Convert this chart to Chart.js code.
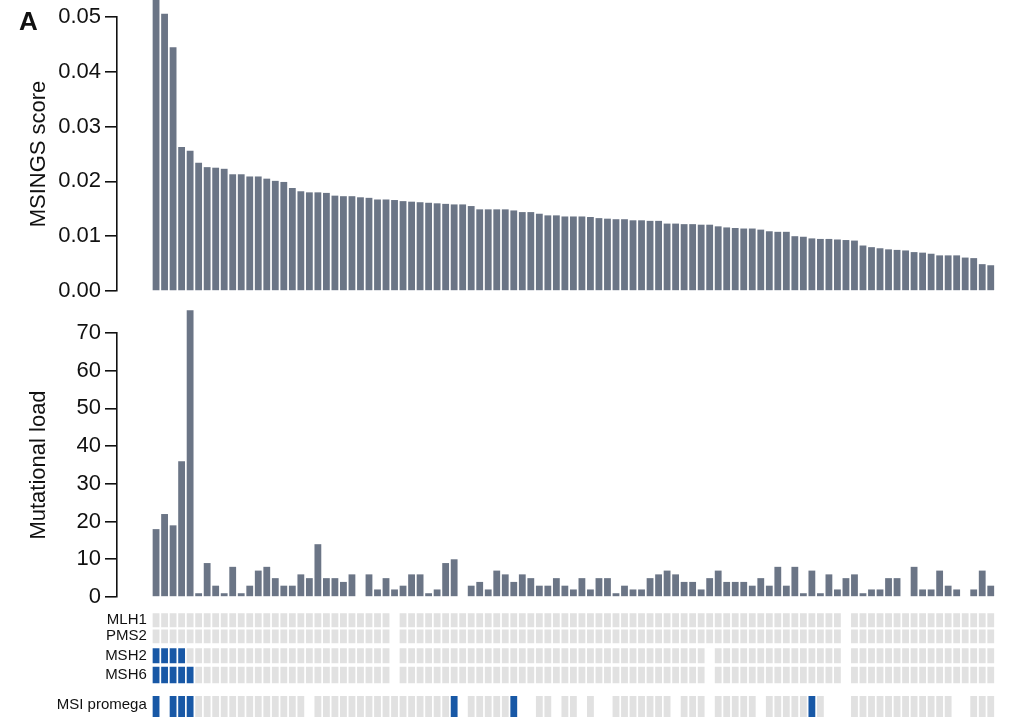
<!DOCTYPE html>
<html>
<head>
<meta charset="utf-8">
<script src="https://cdn.jsdelivr.net/npm/chart.js@4.4.1/dist/chart.umd.min.js"></script>
<style>
  body { margin: 0; background: #fff; }
  #wrap { position: relative; width: 1009px; height: 717px; overflow: hidden; }
  canvas { position: absolute; left: 0; }
  #panelLabel { position: absolute; left: 19px; top: 6px; font: bold 26px "Liberation Sans", Arial, sans-serif; color: #111; }
</style>
</head>
<body>
<div id="wrap">
  <canvas id="scoreChart" width="1009" height="300" style="top:0"></canvas>
  <canvas id="loadChart" width="1009" height="305" style="top:300px"></canvas>
  <canvas id="geneChart" width="1009" height="112" style="top:605px"></canvas>
  <div id="panelLabel">A</div>
</div>
<script>
// MSINGS score per sample (sorted high to low)
const msingsScore = [
  0.057, 0.0506, 0.0445, 0.0263, 0.0256, 0.0234, 0.0226, 0.0225, 0.0223, 0.0213,
  0.0213, 0.0209, 0.0209, 0.0205, 0.0201, 0.0199, 0.0188, 0.0182, 0.0180, 0.0180,
  0.0179, 0.0174, 0.0173, 0.0173, 0.0171, 0.0170, 0.0167, 0.0167, 0.0166, 0.0164,
  0.0163, 0.0162, 0.0161, 0.0160, 0.0159, 0.0158, 0.0158, 0.0155, 0.0149, 0.0149,
  0.0149, 0.0149, 0.0147, 0.0144, 0.0144, 0.0141, 0.0138, 0.0138, 0.0136, 0.0136,
  0.0136, 0.0135, 0.0133, 0.0132, 0.0131, 0.0131, 0.0129, 0.0129, 0.0128, 0.0128,
  0.0123, 0.0123, 0.0122, 0.0122, 0.0121, 0.0121, 0.0118, 0.0116, 0.0115, 0.0114,
  0.0114, 0.0112, 0.0109, 0.0108, 0.0108, 0.0100, 0.0099, 0.0096, 0.0095, 0.0095,
  0.0094, 0.0093, 0.0092, 0.0083, 0.0080, 0.0078, 0.0076, 0.0075, 0.0074, 0.0071,
  0.0070, 0.0068, 0.0065, 0.0065, 0.0065, 0.0061, 0.0060, 0.0049, 0.0047
];

// mutational load, same sample order (null = not sequenced)
const mutationalLoad = [
  18, 22, 19, 36, 76, 1, 9, 3, 1, 8,
  1, 3, 7, 8, 5, 3, 3, 6, 5, 14,
  5, 5, 4, 6, null, 6, 2, 5, 2, 3,
  6, 6, 1, 2, 9, 10, null, 3, 4, 2,
  7, 6, 4, 6, 5, 3, 3, 5, 3, 2,
  5, 2, 5, 5, 1, 3, 2, 2, 5, 6,
  7, 6, 4, 4, 2, 5, 7, 4, 4, 4,
  3, 5, 3, 8, 3, 8, 1, 7, 1, 6,
  2, 5, 6, 1, 2, 2, 5, 5, null, 8,
  2, 2, 7, 3, 2, null, 2, 7, 3
];

// tile status: 0 = no data, 1 = normal, 2 = deficient / MSI-high
const mlh1 = [
  1,1,1,1,1,1,1,1,1,1, 1,1,1,1,1,1,1,1,1,1, 1,1,1,1,1,1,1,1,0,1,
  1,1,1,1,1,1,1,1,1,1, 1,1,1,1,1,1,1,1,1,1, 1,1,1,1,1,1,1,1,1,1,
  1,1,1,1,1,1,1,1,1,1, 1,1,1,1,1,1,1,1,1,1, 1,0,1,1,1,1,1,1,1,1,
  1,1,1,1,1,1,1,1,1
];
const pms2 = [
  1,1,1,1,1,1,1,1,1,1, 1,1,1,1,1,1,1,1,1,1, 1,1,1,1,1,1,1,1,0,1,
  1,1,1,1,1,1,1,1,1,1, 1,1,1,1,1,1,1,1,1,1, 1,1,1,1,1,1,1,1,1,1,
  1,1,1,1,1,1,1,1,1,1, 1,1,1,1,1,1,1,1,1,1, 1,0,1,1,1,1,1,1,1,1,
  1,1,1,1,1,1,1,1,1
];
const msh2 = [
  2,2,2,2,1,1,1,1,1,1, 1,1,1,1,1,1,1,1,1,1, 1,1,1,1,1,1,1,1,0,1,
  1,1,1,1,1,1,1,1,1,1, 1,1,1,1,1,1,1,1,1,1, 1,1,1,1,1,1,1,1,1,1,
  1,1,1,1,1,0,1,1,1,1, 1,1,1,1,1,1,1,1,1,1, 1,0,1,1,1,1,1,1,1,1,
  1,1,1,1,1,1,1,1,1
];
const msh6 = [
  2,2,2,2,2,1,1,1,1,1, 1,1,1,1,1,1,1,1,1,1, 1,1,1,1,1,1,1,1,0,1,
  1,1,1,1,1,1,1,1,1,1, 1,1,1,1,1,1,1,1,1,1, 1,1,1,1,1,1,1,1,1,1,
  1,1,1,1,1,0,1,1,1,1, 1,1,1,1,1,1,1,1,1,1, 1,0,1,1,1,1,1,1,1,1,
  1,1,1,1,1,1,1,1,1
];
const msiPromega = [
  2,0,2,2,2,1,1,1,1,1, 1,1,1,1,1,1,1,1,0,1, 1,1,1,1,1,1,1,1,1,1,
  1,1,1,1,1,2,0,1,1,1, 1,1,2,0,0,1,1,0,1,1, 0,1,0,0,1,1,1,1,1,1,
  1,0,1,1,1,0,1,1,1,1, 1,0,1,1,1,1,1,2,1,0, 0,0,1,1,1,1,1,1,1,1,
  1,1,1,1,0,0,1,1,1
];
const rowNames = ['MLH1', 'PMS2', 'MSH2', 'MSH6', 'MSI promega'];
const rowData = [mlh1, pms2, msh2, msh6, msiPromega];

const scoreTicks = [0, 0.01, 0.02, 0.03, 0.04, 0.05];
const loadTicks = [0, 10, 20, 30, 40, 50, 60, 70];

const BAR = '#6b7586';
const TILE = '#e1e1e1';
const BLUE = '#1858a6';
const FONT = '"Liberation Sans", Arial, Helvetica, sans-serif';

// row bands of the tile strip (y units, reversed axis)
const rowTop = [0.07, 0.96, 2.0, 3.02, 4.64];
const rowBottom = [0.84, 1.73, 2.83, 3.93, 6.5];

const samples = msingsScore.map((v, i) => i + 1);

// shared x range so the three panels line up
const xPanel = { type: 'linear', display: false, offset: false, grid: { offset: false }, min: -3.585, max: 99.5 };

function axisFor(ticks, fmt, title) {
  return {
    min: ticks[0],
    max: ticks[ticks.length - 1],
    afterFit: s => { s.width = 117; s.paddingTop = 0; s.paddingBottom = 0; },
    afterBuildTicks: s => { s.ticks = ticks.map(v => ({ value: v })); },
    border: { display: true, color: '#111', width: 1.6 },
    grid: { drawOnChartArea: false, drawTicks: true, tickLength: 12, color: '#111', lineWidth: 1.6 },
    ticks: { color: '#111', padding: 4, font: { family: FONT, size: 22 }, callback: fmt },
    title: { display: true, text: title, color: '#111', font: { family: FONT, size: 22 }, padding: { top: 26, bottom: 0 } }
  };
}

function barOptions(padTop, padBottom, yAxis) {
  return {
    responsive: false,
    animation: false,
    layout: { padding: { top: padTop, bottom: padBottom, left: 0, right: 14 } },
    plugins: { legend: { display: false }, tooltip: { enabled: false } },
    scales: { x: xPanel, y: yAxis }
  };
}

new Chart(document.getElementById('scoreChart'), {
  type: 'bar',
  data: {
    datasets: [{
      data: msingsScore.map((v, i) => ({ x: samples[i], y: v })),
      backgroundColor: BAR,
      barPercentage: 0.8,
      categoryPercentage: 1,
      clip: false
    }]
  },
  options: barOptions(17, 9, axisFor(scoreTicks, v => v.toFixed(2), 'MSINGS score'))
});

new Chart(document.getElementById('loadChart'), {
  type: 'bar',
  data: {
    datasets: [{
      data: mutationalLoad.map((v, i) => ({ x: samples[i], y: v })),
      backgroundColor: BAR,
      barPercentage: 0.8,
      categoryPercentage: 1,
      clip: false
    }]
  },
  options: barOptions(33, 8, axisFor(loadTicks, v => v, 'Mutational load'))
});

// tile strip: one floating-bar dataset per row
new Chart(document.getElementById('geneChart'), {
  type: 'bar',
  data: {
    datasets: rowData.map((row, r) => ({
      data: row.map((s, i) => ({ x: samples[i], y: [rowTop[r], rowBottom[r]], s }))
               .filter(d => d.s > 0),
      backgroundColor: ctx => (ctx.raw && ctx.raw.s === 2 ? BLUE : TILE),
      barPercentage: 0.8,
      categoryPercentage: 1,
      grouped: false
    }))
  },
  options: {
    responsive: false,
    animation: false,
    layout: { padding: { top: 7, bottom: 0, left: 0, right: 14 } },
    plugins: { legend: { display: false }, tooltip: { enabled: false } },
    scales: {
      x: { type: 'linear', display: false, offset: false, grid: { offset: false }, min: 0.5, max: 99.5 },
      y: {
        reverse: true,
        min: 0,
        max: 5.8,
        afterFit: s => { s.width = 151.8; s.paddingTop = 0; s.paddingBottom = 0; },
        afterBuildTicks: s => {
          s.ticks = rowNames.map((n, r) => ({ value: r < 4 ? (rowTop[r] + rowBottom[r]) / 2 : 5.15 }));
        },
        border: { display: false },
        grid: { display: false, drawTicks: false },
        ticks: {
          color: '#111',
          padding: 5,
          font: { family: FONT, size: 15 },
          callback: (v, i) => rowNames[i]
        }
      }
    }
  }
});
</script>
</body>
</html>
